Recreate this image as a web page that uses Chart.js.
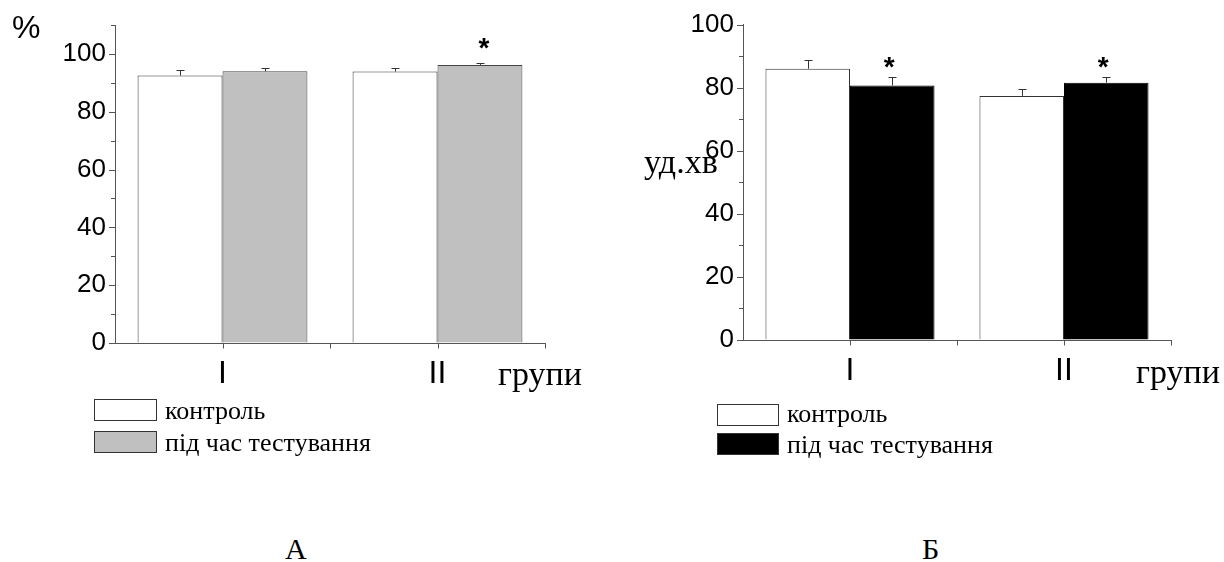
<!DOCTYPE html>
<html>
<head>
<meta charset="utf-8">
<script src="https://cdn.jsdelivr.net/npm/chart.js@4.4.0/dist/chart.umd.min.js"></script>
<style>
  body { margin: 0; background: #fff; width: 1224px; height: 562px; position: relative; overflow: hidden; }
  canvas { position: absolute; top: 0; }
  .t { position: absolute; white-space: nowrap; color: #000; line-height: 1; }
  .serif { font-family: "Liberation Serif", "Times New Roman", serif; }
  .sans { font-family: "Liberation Sans", Arial, sans-serif; }
  .box { position: absolute; border: 1px solid #333; box-sizing: border-box; }
</style>
</head>
<body>
<canvas id="chartA" width="612" height="420" style="left:0"></canvas>
<canvas id="chartB" width="612" height="420" style="left:612px"></canvas>

<!-- chart A texts -->
<div class="t sans" style="left:12px; top:11px; font-size:32px;">%</div>
<div class="t serif" style="left:498px; top:357px; font-size:34px;">групи</div>
<div class="box" style="left:94px; top:399px; width:63px; height:22px; background:#fff;"></div>
<div class="t serif" id="legA0" style="left:165px; top:398px; font-size:26px;"></div>
<div class="box" style="left:94px; top:431px; width:63px; height:22px; background:#c0c0c0;"></div>
<div class="t serif" id="legA1" style="left:165px; top:430px; font-size:26px;"></div>
<div class="t serif" style="left:285px; top:534px; font-size:30px;">А</div>

<!-- chart B texts -->
<div class="t serif" style="left:644px; top:145px; font-size:34px;">уд.хв</div>
<div class="t serif" style="left:1136px; top:355px; font-size:34px;">групи</div>
<div class="box" style="left:717px; top:404px; width:62px; height:22px; background:#fff;"></div>
<div class="t serif" id="legB0" style="left:787px; top:401px; font-size:26px;"></div>
<div class="box" style="left:717px; top:433px; width:62px; height:22px; background:#000;"></div>
<div class="t serif" id="legB1" style="left:787px; top:432px; font-size:26px;"></div>
<div class="t serif" style="left:922px; top:534px; font-size:30px;">Б</div>

<script>
// categories and series names
const groups = ['I', 'II'];
const seriesNames = ['контроль', 'під час тестування'];

// А: %
const controlA = [92.5, 93.9];
const controlErrA = [1.8, 1.1];
const testA = [94.0, 96.2];
const testErrA = [1.0, 0.7];
const starsA = [false, true];

// Б: уд.хв
const controlB = [86.0, 77.4];
const controlErrB = [2.8, 2.1];
const testB = [80.7, 81.6];
const testErrB = [2.6, 1.8];
const starsB = [true, true];

document.getElementById('legA0').textContent = seriesNames[0];
document.getElementById('legA1').textContent = seriesNames[1];
document.getElementById('legB0').textContent = seriesNames[0];
document.getElementById('legB1').textContent = seriesNames[1];

const axisColor = '#555';

// error bars, stars and the little tick marks on both axes
const decorations = {
  id: 'decorations',
  afterDatasetsDraw(chart, args, opts) {
    const ctx = chart.ctx;
    const xs = chart.scales.x, ys = chart.scales.y;
    ctx.save();
    ctx.lineWidth = 1;
    chart.data.datasets.forEach((ds, di) => {
      const meta = chart.getDatasetMeta(di);
      meta.data.forEach((bar, i) => {
        const top = Math.round(ys.getPixelForValue(ds.data[i] + ds.err[i])) + 0.5;
        const cx = Math.round(bar.x) + 0.5;
        ctx.strokeStyle = '#333';
        ctx.beginPath();
        ctx.moveTo(cx, bar.y);
        ctx.lineTo(cx, top);
        ctx.moveTo(cx - 4, top);
        ctx.lineTo(cx + 4, top);
        ctx.stroke();
        if (ds.stars && ds.stars[i]) {
          ctx.fillStyle = '#000';
          ctx.font = opts.starFont;
          ctx.textAlign = 'center';
          ctx.textBaseline = 'alphabetic';
          ctx.fillText('*', bar.x + opts.starDx, top - opts.starGap);
        }
      });
    });

    ctx.strokeStyle = axisColor;
    ctx.beginPath();
    // y ticks: majors every 20, minors in between
    const left = Math.round(ys.left + ys.width);
    for (let v = 0; v <= ys.max; v += 10) {
      const py = Math.round(ys.getPixelForValue(v)) + 0.5;
      const len = v % 20 === 0 ? 6 : 4;
      ctx.moveTo(left - len, py);
      ctx.lineTo(left, py);
    }
    // x ticks at group centres and group boundaries
    const bottom = Math.round(xs.top) + 0.5;
    const half = (xs.getPixelForValue(1) - xs.getPixelForValue(0)) / 2;
    groups.forEach((g, i) => {
      const c = xs.getPixelForValue(i);
      [c, c + half].forEach(px => {
        px = Math.round(px) + 0.5;
        ctx.moveTo(px, bottom);
        ctx.lineTo(px, bottom + 5);
      });
    });
    ctx.stroke();
    ctx.restore();
  }
};

function makeChart(id, control, controlErr, test, testErr, stars, testColor, yMax, box) {
  return new Chart(document.getElementById(id), {
    type: 'bar',
    data: {
      labels: groups,
      datasets: [
        {
          label: seriesNames[0], data: control, err: controlErr,
          backgroundColor: '#fff', borderColor: '#333', borderWidth: 1,
          categoryPercentage: 0.79, barPercentage: 1
        },
        {
          label: seriesNames[1], data: test, err: testErr, stars: stars,
          backgroundColor: testColor, borderColor: testColor === '#000' ? '#000' : '#444', borderWidth: 1,
          categoryPercentage: 0.79, barPercentage: 1
        }
      ]
    },
    options: {
      responsive: false,
      devicePixelRatio: 1,
      animation: false,
      layout: { padding: { left: 0, top: box.top, right: box.right, bottom: 0 } },
      plugins: {
        legend: { display: false },
        tooltip: { enabled: false },
        decorations: { starFont: 'bold 28px "Liberation Sans", Arial, sans-serif', starGap: box.starGap, starDx: box.starDx }
      },
      scales: {
        x: {
          grid: { display: true, drawOnChartArea: false, drawTicks: false },
          border: { display: true, color: axisColor },
          ticks: { color: '#000', padding: box.xPad, font: { family: '"Liberation Sans", Arial, sans-serif', size: 32 } },
          afterFit(s) { s.height = box.xHeight; }
        },
        y: {
          min: 0, max: yMax,
          grid: { display: true, drawOnChartArea: false, drawTicks: false },
          border: { display: true, color: axisColor },
          ticks: { stepSize: 20, includeBounds: false, color: '#000', padding: 9,
                   font: { family: '"Liberation Sans", Arial, sans-serif', size: 26 } },
          afterFit(s) { s.width = box.yWidth; }
        }
      }
    },
    plugins: [decorations]
  });
}

makeChart('chartA', controlA, controlErrA, testA, testErrA, starsA, '#c0c0c0', 110,
  { top: 25, right: 67, yWidth: 115, xHeight: 77, xPad: 12, starGap: 7, starDx: 4 });
makeChart('chartB', controlB, controlErrB, testB, testErrB, starsB, '#000', 100,
  { top: 24, right: 53, yWidth: 131, xHeight: 80, xPad: 12, starGap: 2, starDx: -3 });
</script>
</body>
</html>
